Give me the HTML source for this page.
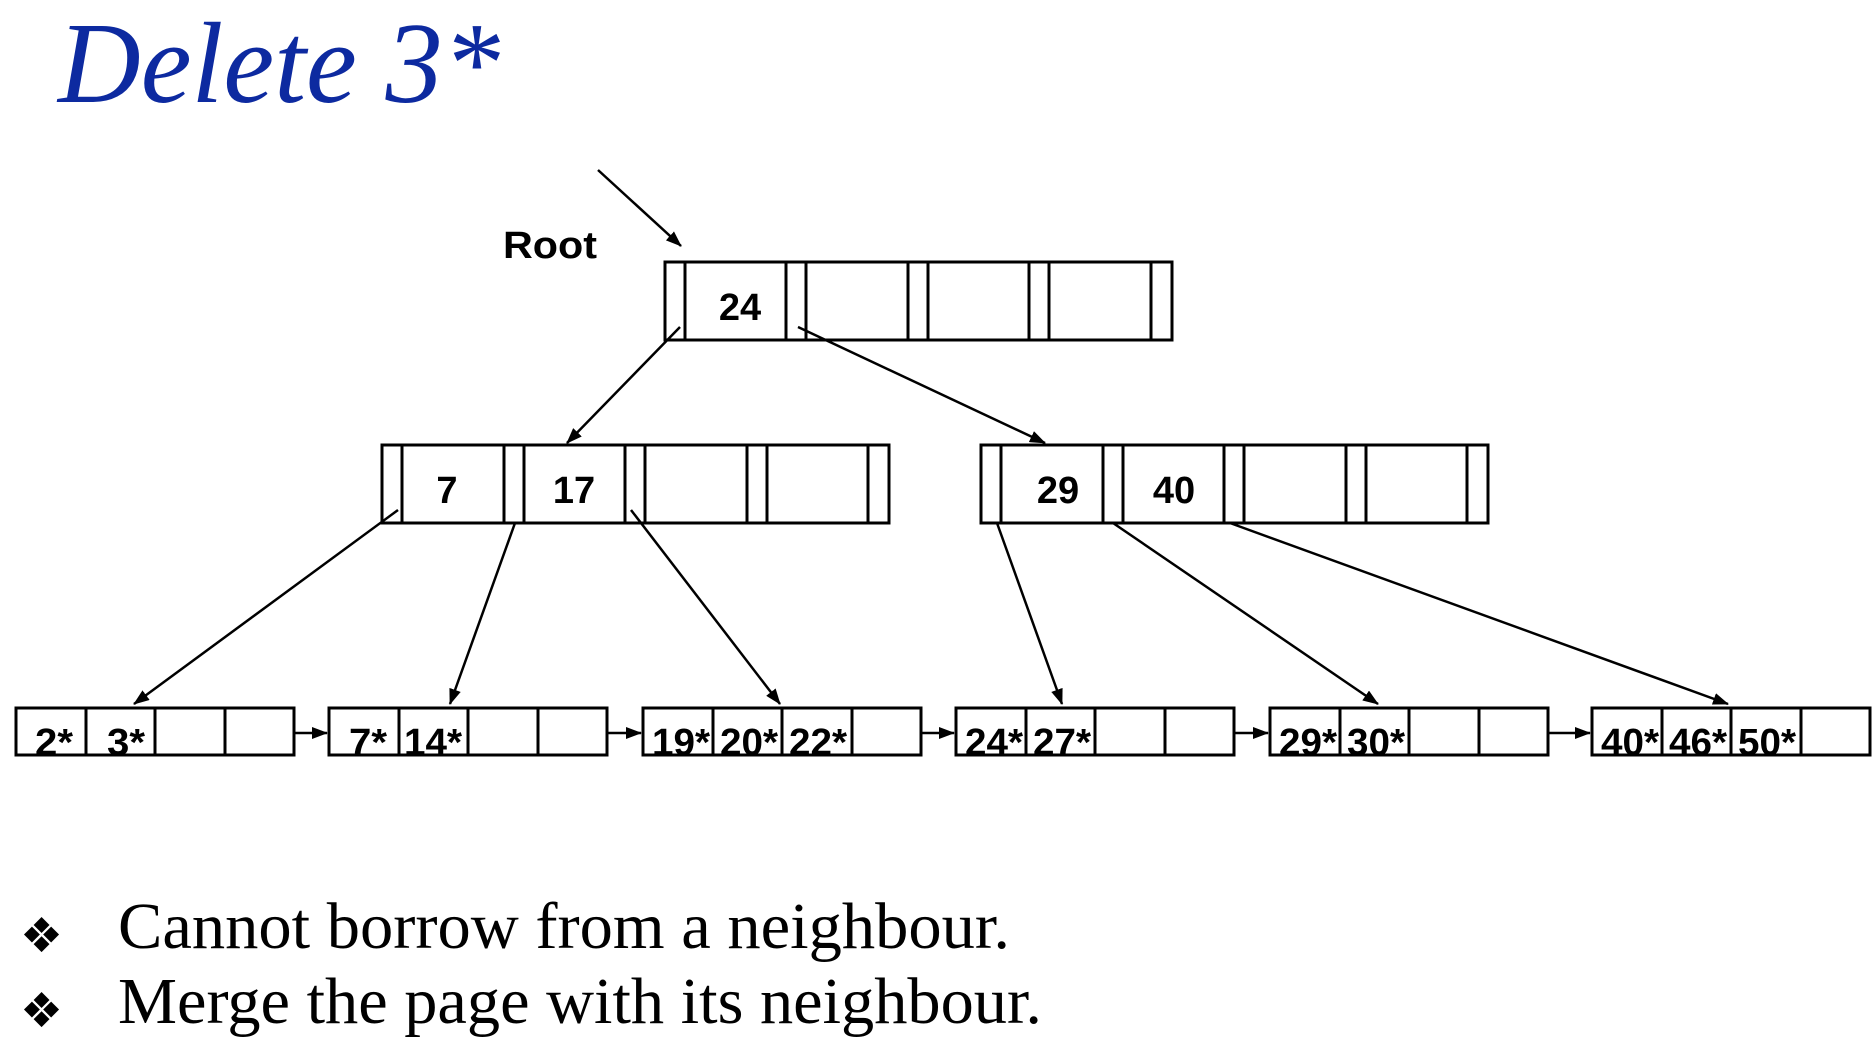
<!DOCTYPE html>
<html><head><meta charset="utf-8"><style>
html,body{margin:0;padding:0;background:#fff;}
svg{display:block;}
.k{font-family:"Liberation Sans",sans-serif;font-weight:bold;font-size:38px;fill:#000;}
.l{font-family:"Liberation Sans",sans-serif;font-weight:bold;font-size:38px;fill:#000;}
</style></head><body>
<svg width="1873" height="1054" viewBox="0 0 1873 1054" xmlns="http://www.w3.org/2000/svg">
<defs>
<marker id="a" markerWidth="16" markerHeight="12" refX="15" refY="6" orient="auto" markerUnits="userSpaceOnUse">
<path d="M0,0 L16,6 L0,12 z" fill="#000"/></marker>
</defs>
<text x="58" y="102" font-family="'Liberation Serif',serif" font-style="italic" font-size="116" fill="#0d2aa0" textLength="442" lengthAdjust="spacingAndGlyphs">Delete 3*</text>
<text x="503" y="258" font-family="'Liberation Sans',sans-serif" font-weight="bold" font-size="38" textLength="94" lengthAdjust="spacingAndGlyphs">Root</text>
<g fill="none" stroke="#000" stroke-width="3">
<rect x="665" y="262" width="507" height="78"/>
<line x1="685" y1="262" x2="685" y2="340"/><line x1="786" y1="262" x2="786" y2="340"/><line x1="806" y1="262" x2="806" y2="340"/>
<line x1="908" y1="262" x2="908" y2="340"/><line x1="928" y1="262" x2="928" y2="340"/>
<line x1="1029" y1="262" x2="1029" y2="340"/><line x1="1049" y1="262" x2="1049" y2="340"/>
<line x1="1151" y1="262" x2="1151" y2="340"/>
<rect x="382" y="445" width="507" height="78"/>
<line x1="402" y1="445" x2="402" y2="523"/><line x1="504" y1="445" x2="504" y2="523"/><line x1="524" y1="445" x2="524" y2="523"/>
<line x1="625" y1="445" x2="625" y2="523"/><line x1="645" y1="445" x2="645" y2="523"/>
<line x1="747" y1="445" x2="747" y2="523"/><line x1="767" y1="445" x2="767" y2="523"/>
<line x1="868" y1="445" x2="868" y2="523"/>
<rect x="981" y="445" width="507" height="78"/>
<line x1="1001" y1="445" x2="1001" y2="523"/><line x1="1103" y1="445" x2="1103" y2="523"/><line x1="1123" y1="445" x2="1123" y2="523"/>
<line x1="1224" y1="445" x2="1224" y2="523"/><line x1="1244" y1="445" x2="1244" y2="523"/>
<line x1="1346" y1="445" x2="1346" y2="523"/><line x1="1366" y1="445" x2="1366" y2="523"/>
<line x1="1467" y1="445" x2="1467" y2="523"/>
<rect x="16" y="708" width="278" height="47"/><line x1="86" y1="708" x2="86" y2="755"/><line x1="155" y1="708" x2="155" y2="755"/><line x1="225" y1="708" x2="225" y2="755"/>
<rect x="329" y="708" width="278" height="47"/><line x1="399" y1="708" x2="399" y2="755"/><line x1="468" y1="708" x2="468" y2="755"/><line x1="538" y1="708" x2="538" y2="755"/>
<rect x="643" y="708" width="278" height="47"/><line x1="713" y1="708" x2="713" y2="755"/><line x1="782" y1="708" x2="782" y2="755"/><line x1="852" y1="708" x2="852" y2="755"/>
<rect x="956" y="708" width="278" height="47"/><line x1="1026" y1="708" x2="1026" y2="755"/><line x1="1095" y1="708" x2="1095" y2="755"/><line x1="1165" y1="708" x2="1165" y2="755"/>
<rect x="1270" y="708" width="278" height="47"/><line x1="1340" y1="708" x2="1340" y2="755"/><line x1="1409" y1="708" x2="1409" y2="755"/><line x1="1479" y1="708" x2="1479" y2="755"/>
<rect x="1592" y="708" width="278" height="47"/><line x1="1662" y1="708" x2="1662" y2="755"/><line x1="1731" y1="708" x2="1731" y2="755"/><line x1="1801" y1="708" x2="1801" y2="755"/>
</g>
<g stroke="#000" stroke-width="2.5" marker-end="url(#a)">
<line x1="598" y1="170" x2="681" y2="246"/>
<line x1="680" y1="327" x2="567" y2="443"/>
<line x1="798" y1="327" x2="1045" y2="443"/>
<line x1="398" y1="510" x2="134" y2="704"/>
<line x1="515" y1="523" x2="450" y2="704"/>
<line x1="631" y1="510" x2="780" y2="704"/>
<line x1="997" y1="523" x2="1062" y2="704"/>
<line x1="1113" y1="523" x2="1378" y2="704"/>
<line x1="1230" y1="523" x2="1728" y2="704"/>
<line x1="294" y1="733" x2="327" y2="733"/>
<line x1="607" y1="733" x2="641" y2="733"/>
<line x1="921" y1="733" x2="954" y2="733"/>
<line x1="1234" y1="733" x2="1268" y2="733"/>
<line x1="1548" y1="733" x2="1590" y2="733"/>
</g>
<g class="k" text-anchor="middle">
<text x="740" y="320">24</text>
<text x="447" y="503">7</text>
<text x="574" y="503">17</text>
<text x="1058" y="503">29</text>
<text x="1174" y="503">40</text>
</g>
<g class="l" text-anchor="middle">
<text x="54" y="755" textLength="38" lengthAdjust="spacingAndGlyphs">2*</text>
<text x="126" y="755" textLength="38" lengthAdjust="spacingAndGlyphs">3*</text>
<text x="368" y="755" textLength="38" lengthAdjust="spacingAndGlyphs">7*</text>
<text x="433" y="755" textLength="58" lengthAdjust="spacingAndGlyphs">14*</text>
<text x="681" y="755" textLength="58" lengthAdjust="spacingAndGlyphs">19*</text>
<text x="749" y="755" textLength="58" lengthAdjust="spacingAndGlyphs">20*</text>
<text x="818" y="755" textLength="58" lengthAdjust="spacingAndGlyphs">22*</text>
<text x="994" y="755" textLength="58" lengthAdjust="spacingAndGlyphs">24*</text>
<text x="1062" y="755" textLength="58" lengthAdjust="spacingAndGlyphs">27*</text>
<text x="1308" y="755" textLength="58" lengthAdjust="spacingAndGlyphs">29*</text>
<text x="1376" y="755" textLength="58" lengthAdjust="spacingAndGlyphs">30*</text>
<text x="1630" y="755" textLength="58" lengthAdjust="spacingAndGlyphs">40*</text>
<text x="1698" y="755" textLength="58" lengthAdjust="spacingAndGlyphs">46*</text>
<text x="1767" y="755" textLength="58" lengthAdjust="spacingAndGlyphs">50*</text>
</g>
<g font-family="'DejaVu Sans',sans-serif" font-size="48" fill="#000">
<text x="20" y="952">❖</text>
<text x="20" y="1027">❖</text>
</g>
<g font-family="'Liberation Serif',serif" font-size="66" fill="#000">
<text x="118" y="948" textLength="892" lengthAdjust="spacingAndGlyphs">Cannot borrow from a neighbour.</text>
<text x="118" y="1023" textLength="924" lengthAdjust="spacingAndGlyphs">Merge the page with its neighbour.</text>
</g>
</svg>
</body></html>
